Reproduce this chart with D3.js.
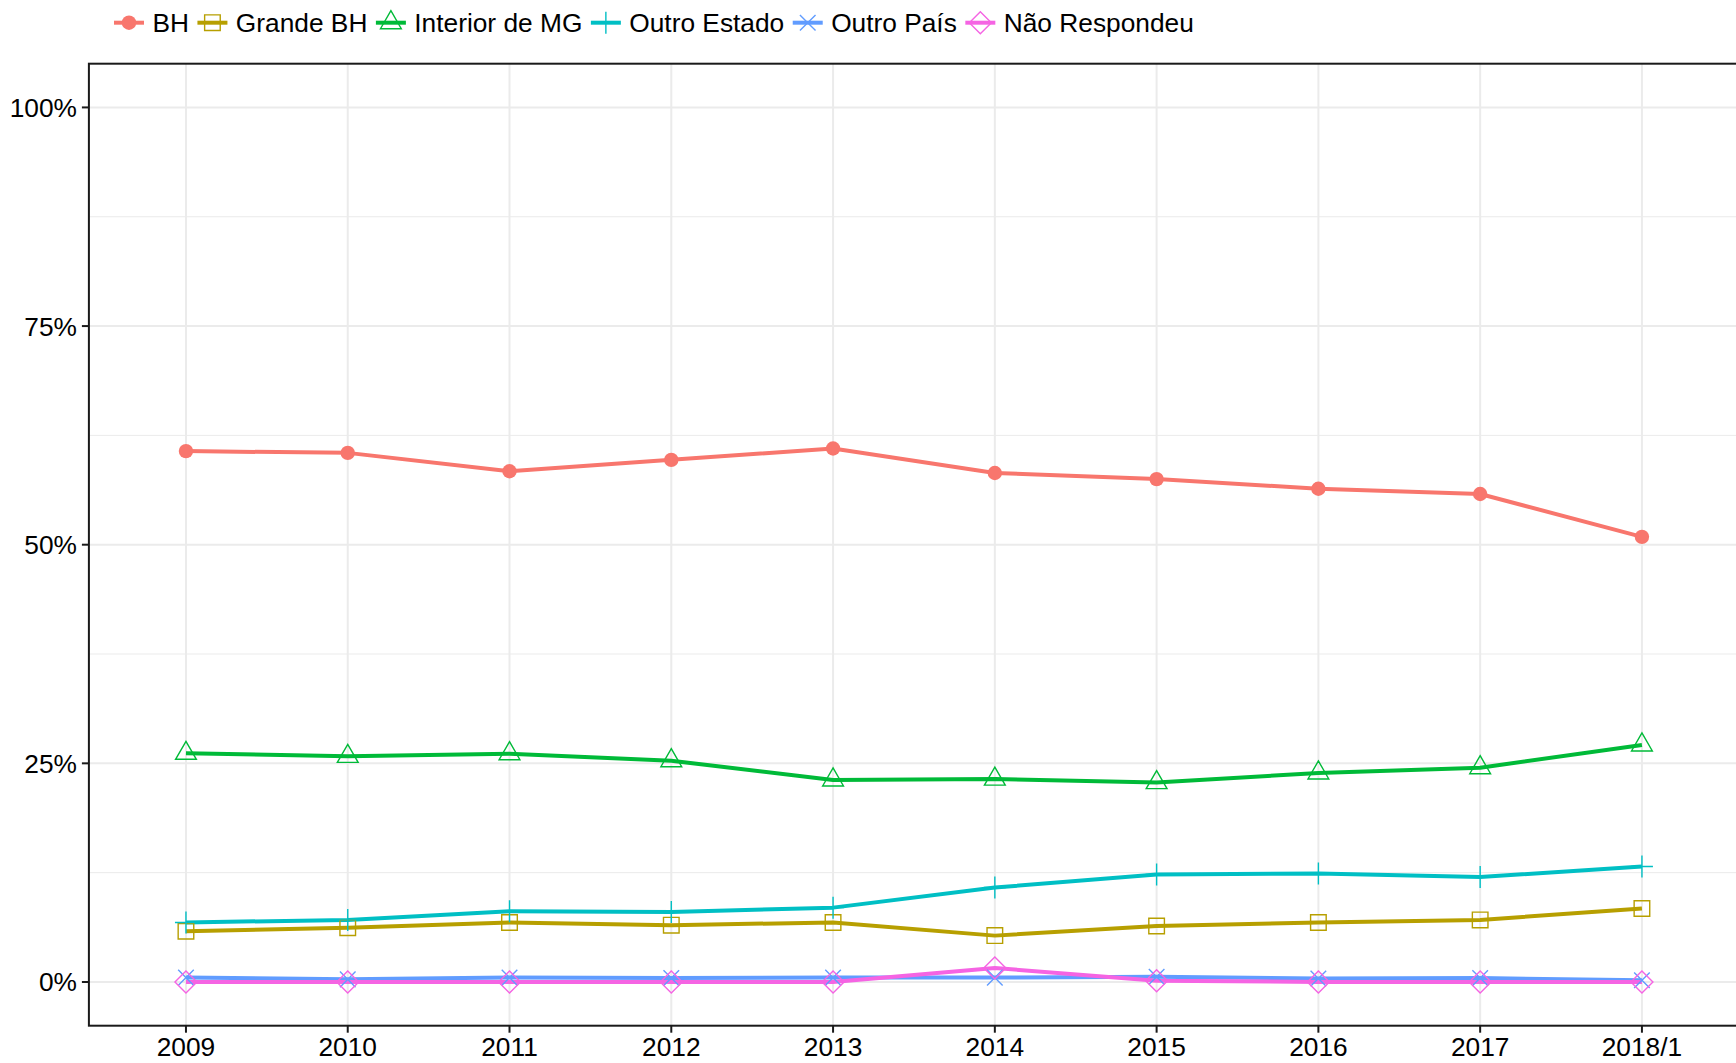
<!DOCTYPE html>
<html>
<head>
<meta charset="utf-8">
<script src="https://cdn.jsdelivr.net/npm/d3@7"></script>
<style>
  body { margin: 0; background: #fff; }
  text { font-family: "Liberation Sans", Arial, Helvetica, sans-serif; }
</style>
</head>
<body>
<svg id="chart"></svg>
<script>
// categories and series (% of students)
const years = ['2009', '2010', '2011', '2012', '2013', '2014', '2015', '2016', '2017', '2018/1']
const seriesNames = ['BH', 'Grande BH', 'Interior de MG', 'Outro Estado', 'Outro País', 'Não Respondeu']
const bh = [60.7, 60.5, 58.4, 59.7, 61.0, 58.2, 57.5, 56.4, 55.8, 50.9]
const grandeBh = [5.8, 6.2, 6.8, 6.5, 6.8, 5.3, 6.4, 6.8, 7.1, 8.4]
const interiorMg = [26.15, 25.8, 26.1, 25.3, 23.1, 23.2, 22.8, 23.9, 24.5, 27.1]
const outroEstado = [6.8, 7.1, 8.1, 8.0, 8.5, 10.8, 12.3, 12.4, 12.0, 13.2]
const outroPais = [0.5, 0.3, 0.5, 0.45, 0.5, 0.5, 0.6, 0.4, 0.45, 0.2]
const naoRespondeu = [0, 0, 0, 0, 0, 1.6, 0.15, 0, 0, 0]
const yTicks = [0, 25, 50, 75, 100]
const yMinor = [12.5, 37.5, 62.5, 87.5]

const allValues = [bh, grandeBh, interiorMg, outroEstado, outroPais, naoRespondeu]
const colors = ['#F8766D', '#B79F00', '#00BA38', '#00BFC4', '#619CFF', '#F564E3']
const shapes = ['circle', 'square', 'triangle', 'plus', 'cross', 'diamond']

const width = 1736, height = 1063
const panel = { left: 88.9, right: 1739, top: 63.7, bottom: 1025.7 }
const fontSize = 26.3

const svg = d3.select('#chart').attr('width', width).attr('height', height)
svg.append('rect').attr('width', width).attr('height', height).attr('fill', '#fff')

const x = d3.scalePoint().domain(years).range([panel.left, panel.right]).padding(0.6)
const y = d3.scaleLinear().domain([-5, 105]).range([panel.bottom, panel.top])

// grid
const grid = svg.append('g')
grid.selectAll('.minor').data(yMinor).enter().append('line')
  .attr('x1', panel.left).attr('x2', panel.right)
  .attr('y1', d => y(d)).attr('y2', d => y(d))
  .attr('stroke', '#EBEBEB').attr('stroke-width', 1)
grid.selectAll('.major').data(yTicks).enter().append('line')
  .attr('x1', panel.left).attr('x2', panel.right)
  .attr('y1', d => y(d)).attr('y2', d => y(d))
  .attr('stroke', '#EBEBEB').attr('stroke-width', 2)
grid.selectAll('.vmajor').data(years).enter().append('line')
  .attr('x1', d => x(d)).attr('x2', d => x(d))
  .attr('y1', panel.top).attr('y2', panel.bottom)
  .attr('stroke', '#EBEBEB').attr('stroke-width', 2)

// marker shapes (R pch 16, 0, 2, 3, 4, 5)
function markerPath(shape) {
  switch (shape) {
    case 'square': return 'M-7.8,-7.8H7.8V7.8H-7.8Z'
    case 'triangle': return 'M0,-12L10.4,6H-10.4Z'
    case 'plus': return 'M-11,0H11M0,-11V11'
    case 'cross': return 'M-7.8,-7.8L7.8,7.8M-7.8,7.8L7.8,-7.8'
    case 'diamond': return 'M0,-11L11,0L0,11L-11,0Z'
  }
  return ''
}
function drawMarker(g, shape, color) {
  if (shape === 'circle') {
    g.append('circle').attr('r', 7.2).attr('fill', color)
  } else {
    g.append('path').attr('d', markerPath(shape))
      .attr('fill', 'none').attr('stroke', color).attr('stroke-width', 1.4)
  }
}

const line = d3.line().x((d, i) => x(years[i])).y(d => y(d))

// lines
const lines = svg.append('g')
allValues.forEach((vals, k) => {
  lines.append('path').datum(vals)
    .attr('d', line)
    .attr('fill', 'none')
    .attr('stroke', colors[k])
    .attr('stroke-width', 4)
    .attr('stroke-linejoin', 'round')
})

// points
const points = svg.append('g')
allValues.forEach((vals, k) => {
  vals.forEach((v, i) => {
    const g = points.append('g').attr('transform', 'translate(' + x(years[i]) + ',' + y(v) + ')')
    drawMarker(g, shapes[k], colors[k])
  })
})

// panel border
svg.append('rect')
  .attr('x', panel.left).attr('y', panel.top)
  .attr('width', panel.right - panel.left).attr('height', panel.bottom - panel.top)
  .attr('fill', 'none').attr('stroke', '#1a1a1a').attr('stroke-width', 2)

// y axis
const yAxis = svg.append('g')
yAxis.selectAll('line').data(yTicks).enter().append('line')
  .attr('x1', panel.left - 7).attr('x2', panel.left)
  .attr('y1', d => y(d)).attr('y2', d => y(d))
  .attr('stroke', '#1a1a1a').attr('stroke-width', 2)
yAxis.selectAll('text').data(yTicks).enter().append('text')
  .attr('x', panel.left - 12).attr('y', d => y(d)).attr('dy', '0.36em')
  .attr('text-anchor', 'end').attr('font-size', fontSize).attr('fill', '#000')
  .text(d => d + '%')

// x axis
const xAxis = svg.append('g')
xAxis.selectAll('line').data(years).enter().append('line')
  .attr('x1', d => x(d)).attr('x2', d => x(d))
  .attr('y1', panel.bottom).attr('y2', panel.bottom + 7)
  .attr('stroke', '#1a1a1a').attr('stroke-width', 2)
xAxis.selectAll('text').data(years).enter().append('text')
  .attr('x', d => x(d)).attr('y', 1056)
  .attr('text-anchor', 'middle').attr('font-size', fontSize).attr('fill', '#000')
  .text(d => d)

// legend
const legend = svg.append('g')
let cx = 129
seriesNames.forEach((name, k) => {
  const item = legend.append('g').attr('transform', 'translate(' + cx + ',22.7)')
  item.append('line').attr('x1', -15).attr('x2', 15)
    .attr('stroke', colors[k]).attr('stroke-width', 4)
  drawMarker(item, shapes[k], colors[k])
  const t = legend.append('text')
    .attr('x', cx + 23.4).attr('y', 22.7).attr('dy', '0.36em')
    .attr('font-size', fontSize).attr('fill', '#000')
    .text(name)
  cx = cx + 23.4 + t.node().getComputedTextLength() + 23.5
})
</script>
</body>
</html>
